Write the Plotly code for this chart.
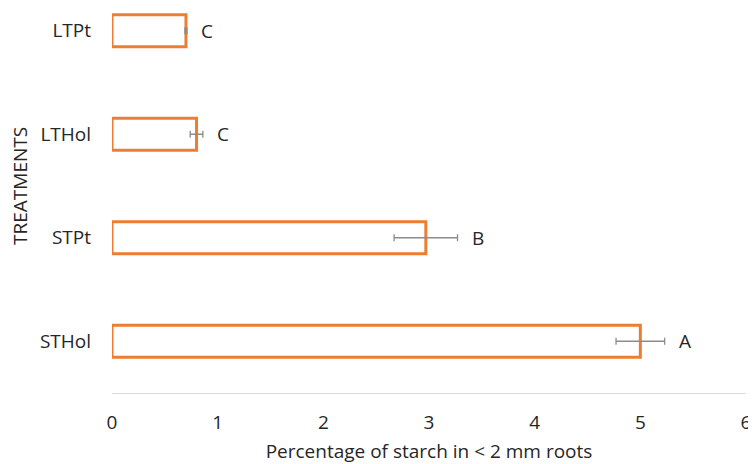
import plotly.graph_objects as go

treatments = ["STHol", "STPt", "LTHol", "LTPt"]
starch = [5.0, 2.97, 0.80, 0.70]
errors = [0.23, 0.30, 0.06, 0.01]
letters = ["A", "B", "C", "C"]
x_ticks = [0, 1, 2, 3, 4, 5, 6]

FONT = "Open Sans"
FS = 19
fig = go.Figure()
fig.add_trace(go.Bar(
    y=treatments, x=starch, orientation="h", width=0.31,
    marker=dict(color="white", line=dict(color="#ED7D31", width=3)),
    error_x=dict(type="data", array=errors, visible=True,
                 color="#8c8c8c", thickness=1.3, width=3.5),
    showlegend=False,
))

for t, v, e, l in zip(treatments, starch, errors, letters):
    fig.add_annotation(x=v + e, y=t, text=l, showarrow=False,
                       xanchor="left", xshift=12,
                       font=dict(family=FONT, size=FS, color="#262626"))

fig.add_annotation(text="TREATMENTS", xref="paper", yref="paper",
                   x=-0.145, y=0.538, textangle=-90, showarrow=False,
                   xanchor="center", yanchor="middle",
                   font=dict(family=FONT, size=FS, color="#262626"))

fig.update_layout(
    width=748, height=456,
    margin=dict(l=104, r=10, t=0, b=71, autoexpand=False),
    plot_bgcolor="white", paper_bgcolor="white",
    font=dict(family=FONT, size=FS, color="#262626"),
    bargap=0.69,
)
fig.update_xaxes(range=[0, 6], tickvals=x_ticks, showgrid=False,
                 showline=True, linecolor="#d9d9d9", linewidth=1,
                 zeroline=False, ticks="", ticklabelstandoff=12,
                 ticklabeloverflow="allow", automargin=False,
                 title=dict(text="Percentage of starch in < 2 mm roots",
                            standoff=24,
                            font=dict(family=FONT, size=FS, color="#262626")))
fig.update_yaxes(range=[-0.5, 3.22], showgrid=False, showline=False,
                 zeroline=False, ticks="", ticklabelstandoff=20,
                 automargin=False,
                 categoryorder="array", categoryarray=treatments)

fig.write_html("out.html")
